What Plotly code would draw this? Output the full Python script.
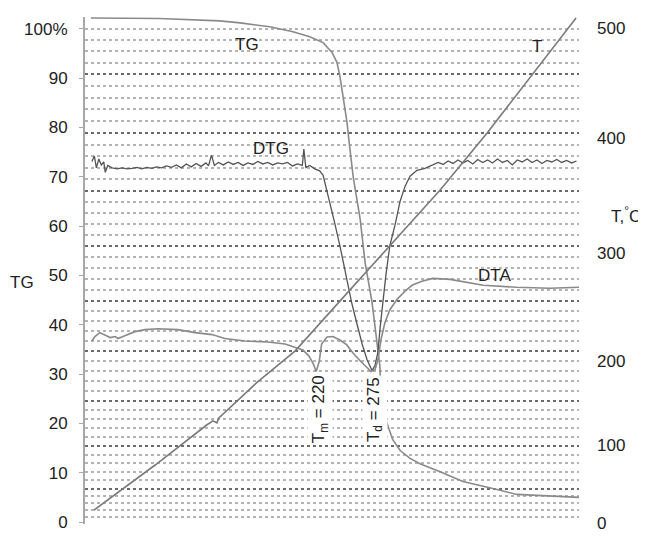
import numpy as np
import plotly.graph_objects as go

FONT = "Liberation Sans, Arial, sans-serif"

# ---------------- axis labels ----------------
tg_tick_vals = [0, 10, 20, 30, 40, 50, 60, 70, 80, 90, 100]
tg_tick_text = ["0", "10", "20", "30", "40", "50", "60", "70", "80", "90", "100%"]

# right (temperature) axis of the scanned figure is not uniform:
# label text and where each label sits on the display scale
t_tick_text = ["0", "100", "200", "300", "400", "500"]
t_tick_pos = [-1.0, 77.7, 163.3, 272.9, 389.4, 501.0]
# heavy grid lines every 50 °C (display scale, top -> bottom)
t_grid_major = [511.5, 454.2, 394.4, 335.7, 279.9, 224.1, 173.3, 122.5, 76.7, 33.9, -1.5]

# ---------------- data (time axis 0..100) ----------------
tg_x = [1.2, 15.0, 27.3, 31.4, 37.4, 42.1, 45.5, 48.2, 50.0, 51.0, 51.6, 52.2, 53.0, 53.6,
        54.3, 55.7, 56.7, 58.1, 58.9, 59.7, 59.9, 60.3, 61.1, 62.3, 63.8, 65.8, 67.8,
        71.9, 76.5, 83.4, 87.4, 100.0]
tg_y = [102.2, 102.1, 101.6, 101.2, 100.4, 99.4, 98.4, 97.2, 95.2, 93.2, 90.4, 86.5, 81.3, 75.9,
        69.9, 61.4, 52.6, 44.6, 38.0, 31.5, 26.1, 24.1, 20.1, 16.7, 14.5, 12.9, 11.8,
        10.2, 8.2, 6.6, 5.6, 5.0]

dtg_x = [1.4, 1.9, 2.3, 2.8, 3.3, 3.8, 4.1, 4.6, 5.5, 6.5, 7.5, 8.5, 9.5, 10.5, 11.5, 12.5,
         13.5, 14.5, 15.5, 16.5, 17.5, 18.5, 19.5, 20.5, 21.5, 22.5, 23.5, 24.5, 25.0, 25.6,
         26.2, 27.0, 28.0, 29.0, 30.0, 31.0, 32.0, 33.0, 34.0, 35.0, 36.0, 37.0, 38.0, 39.0,
         40.0, 41.0, 42.0, 43.0, 44.0, 44.3, 44.7, 45.5, 46.5, 47.5, 48.2, 48.8, 49.6, 50.6,
         51.6, 52.4, 53.2, 54.0, 55.1, 56.1, 57.1, 57.7, 58.1, 58.7, 59.3, 59.7, 60.3, 60.9,
         61.7, 62.8, 63.8, 64.8, 65.8, 67.2, 68.8, 69.8, 70.5, 71.5, 72.5, 73.5, 74.5, 75.5,
         76.5, 77.5, 78.5, 79.5, 80.5, 81.5, 82.5, 83.5, 84.5, 85.5, 86.5, 87.5, 88.5, 89.5,
         90.5, 91.5, 92.5, 93.5, 94.5, 95.5, 96.5, 97.5, 98.5, 99.5]
dtg_y = [73.1, 74.2, 71.8, 73.6, 72.4, 73.0, 70.9, 72.3, 71.8, 71.6, 71.8, 71.6, 71.7, 71.9, 71.6, 71.9,
         71.7, 72.0, 71.8, 72.2, 71.9, 72.4, 71.8, 72.6, 72.0, 72.7, 72.1, 72.8, 72.2, 74.4,
         72.3, 72.9, 72.4, 73.0, 72.5, 72.9, 72.3, 72.8, 72.5, 73.1, 72.6, 72.9, 72.4, 72.8,
         72.6, 72.9, 72.2, 72.6, 72.3, 75.6, 71.9, 72.3, 71.6, 71.2, 70.3, 67.9, 64.5, 60.4,
         56.0, 52.0, 48.0, 44.4, 40.0, 36.1, 32.9, 31.5, 30.7, 31.7, 34.5, 39.0, 44.6, 50.0,
         56.0, 60.4, 65.1, 68.1, 70.1, 71.3, 71.7, 72.1, 72.4, 72.9, 72.5, 73.2, 72.7, 73.4,
         72.8, 73.3, 72.6, 73.5, 72.9, 73.4, 72.8, 73.6, 72.9, 73.3, 72.4, 73.4, 73.0, 73.6,
         72.9, 73.4, 72.7, 73.3, 73.0, 73.5, 72.9, 73.3, 72.8, 73.2]

dta_x = [1.4, 2.0, 3.0, 4.0, 5.1, 6.1, 6.7, 7.7, 8.7, 10.1, 12.1, 14.8, 18.8, 22.3, 25.7, 28.3,
         32.4, 37.0, 40.5, 42.5, 44.1, 45.3, 46.2, 46.8, 47.4, 47.9, 49.0, 50.2, 51.6, 53.0,
         54.2, 55.7, 56.9, 57.9, 58.7, 59.3, 59.9, 60.7, 61.7, 63.2, 64.8, 66.2, 68.2, 70.4,
         73.9, 80.6, 87.4, 94.1, 100.0]
dta_y = [36.7, 37.6, 38.4, 38.0, 37.4, 37.6, 37.2, 37.6, 38.0, 38.6, 39.0, 39.2, 39.0, 38.4, 38.0, 37.2,
         36.7, 36.5, 36.1, 35.5, 34.9, 33.7, 32.1, 30.5, 32.5, 36.1, 37.5, 37.6, 36.9, 35.9,
         34.3, 32.7, 31.5, 30.5, 30.9, 32.9, 36.9, 40.4, 43.0, 45.2, 46.8, 48.0, 48.8, 49.4,
         49.2, 48.0, 47.6, 47.4, 47.6]

# temperature trace (display scale of the right axis)
t_x = [1.8, 14.2, 24.7, 25.9, 26.7, 27.1, 35.0, 42.5, 53.6, 61.7, 71.9, 81.4, 90.5, 99.4]
t_y = [12.0, 57.8, 98.6, 102.6, 100.6, 105.6, 142.4, 173.3, 235.1, 279.9, 336.6, 394.4, 453.2, 511.0]

# light grid lines every 10 °C between the heavy ones
t_grid_minor = []
for a, b in zip(t_grid_major[:-1], t_grid_major[1:]):
    t_grid_minor.extend(np.linspace(a, b, 6)[1:-1].tolist())

Y1_RANGE = [-0.40, 102.39]
Y2_RANGE = [v * 5 for v in Y1_RANGE]

fig = go.Figure()
fig.add_trace(go.Scatter(x=tg_x, y=tg_y, mode="lines", line=dict(color="#8a8a8a", width=1.6),
                         hoverinfo="skip", showlegend=False))
fig.add_trace(go.Scatter(x=dtg_x, y=dtg_y, mode="lines", line=dict(color="#555555", width=1.3),
                         hoverinfo="skip", showlegend=False))
fig.add_trace(go.Scatter(x=dta_x, y=dta_y, mode="lines", line=dict(color="#8a8a8a", width=1.6),
                         hoverinfo="skip", showlegend=False))
fig.add_trace(go.Scatter(x=t_x, y=t_y, yaxis="y2", mode="lines",
                         line=dict(color="#7a7a7a", width=1.6), hoverinfo="skip", showlegend=False))
# carrier for the grid axis
fig.add_trace(go.Scatter(x=[None], y=[None], yaxis="y3", mode="lines", hoverinfo="skip",
                         showlegend=False))

tick_font = dict(family=FONT, size=17, color="#222222")

# the page body adds an 8 px offset, so the figure is 8 px smaller than the window
fig.update_layout(
    width=638, height=529,
    margin=dict(l=77, r=67, t=9, b=4),
    paper_bgcolor="white", plot_bgcolor="white",
    font=dict(family=FONT, size=17, color="#222222"),
    xaxis=dict(range=[0, 100], showgrid=False, zeroline=False, showline=False,
               showticklabels=False, ticks=""),
    yaxis=dict(range=Y1_RANGE, tickmode="array", tickvals=tg_tick_vals, ticktext=tg_tick_text,
               showgrid=False, zeroline=False, showline=True, linecolor="#a8a8a8", linewidth=2,
               ticks="outside", ticklen=4, tickcolor="#a8a8a8", tickfont=tick_font,
               ticklabelstandoff=8, ticklabeloverflow="allow"),
    yaxis2=dict(range=Y2_RANGE, overlaying="y", side="right", anchor="x",
                tickmode="array", tickvals=t_tick_pos, ticktext=t_tick_text,
                showgrid=False, zeroline=False, showline=False, ticks="",
                tickfont=tick_font, ticklabelstandoff=17, ticklabeloverflow="allow"),
    yaxis3=dict(range=Y2_RANGE, overlaying="y", side="left", anchor="x",
                tickmode="array", tickvals=t_grid_major, showticklabels=False, ticks="",
                showline=False, zeroline=False,
                showgrid=True, gridcolor="#6a6a6a", gridwidth=2, griddash="dot",
                minor=dict(tickmode="array", tickvals=t_grid_minor, showgrid=True,
                           gridcolor="#b4b4b4", gridwidth=1.5, griddash="dot", ticks="")),
)

ann = [
    dict(x=32.8, y=96.8, text="TG"),
    dict(x=91.5, y=96.4, text="T"),
    dict(x=37.7, y=75.7, text="DTG"),
    dict(x=82.8, y=50.0, text="DTA"),
]
for a in ann:
    fig.add_annotation(x=a["x"], y=a["y"], xref="x", yref="y", text=a["text"], showarrow=False,
                       font=dict(family=FONT, size=17, color="#222222"))

for x, txt in [(47.6, "T<sub>m</sub> = 220"), (58.7, "T<sub>d</sub> = 275")]:
    fig.add_annotation(x=x, y=22.9, xref="x", yref="y", text=txt, textangle=-90, showarrow=False,
                       bgcolor="white", font=dict(family=FONT, size=17, color="#222222"))

fig.add_annotation(x=-0.1275, y=0.476, xref="paper", yref="paper", text="TG", showarrow=False,
                   xanchor="center", font=dict(family=FONT, size=17, color="#222222"))
fig.add_annotation(x=1.129, y=0.609, xref="paper", yref="paper", text="T,<sup>°</sup>C",
                   xanchor="right", showarrow=False, font=dict(family=FONT, size=17, color="#222222"))

fig.write_html("out.html")
